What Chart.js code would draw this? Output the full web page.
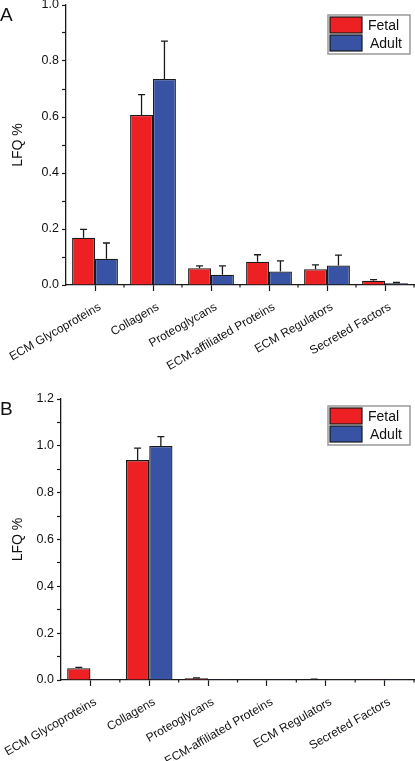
<!DOCTYPE html>
<html>
<head>
<meta charset="utf-8">
<script src="https://cdn.jsdelivr.net/npm/chart.js@4/dist/chart.umd.min.js"></script>
<style>
  body { margin: 0; background: #fff; width: 415px; height: 761px; overflow: hidden; position: relative; font-family: "Liberation Sans", Arial, sans-serif; }
  .panel { position: absolute; left: 0; }
  .letter { position: absolute; left: 0; font-size: 19px; line-height: 1; color: #111; }
</style>
</head>
<body>
<div class="panel" style="top:0"><canvas id="chartA" width="415" height="380"></canvas></div>
<div class="panel" style="top:380px"><canvas id="chartB" width="415" height="381"></canvas></div>
<div class="letter" style="top:5px">A</div>
<div class="letter" style="top:399px">B</div>
<script>
// categorias y valores
const categories = ['ECM Glycoproteins', 'Collagens', 'Proteoglycans', 'ECM-affiliated Proteins', 'ECM Regulators', 'Secreted Factors'];
const seriesNames = ['Fetal', 'Adult'];

// panel A
const fetalA = [0.169, 0.607, 0.060, 0.083, 0.056, 0.015];
const fetalErrA = [0.030, 0.073, 0.008, 0.025, 0.016, 0.004];
const adultA = [0.094, 0.736, 0.037, 0.048, 0.070, 0.006];
const adultErrA = [0.056, 0.135, 0.031, 0.038, 0.037, 0.003];

// panel B
const fetalB = [0.050, 0.939, 0.007, 0.001, 0.003, 0.001];
const fetalErrB = [0.004, 0.051, 0.002, 0, 0.001, 0];
const adultB = [0.001, 0.999, 0.0005, 0.001, 0.001, 0.0005];
const adultErrB = [0, 0.040, 0, 0, 0, 0];

const yMaxA = 1.0;
const yMaxB = 1.2;

const RED = 'rgb(237, 32, 36)';
const BLUE = 'rgb(57, 83, 164)';
const INK = '#1a1a1a';
const FONT = '"Liberation Sans", Arial, sans-serif';

// barras de error (solo hacia arriba) + marcas menores del eje x + leyenda
const extrasPlugin = {
  id: 'extras',
  afterDatasetsDraw(chart, args, opts) {
    const ctx = chart.ctx;
    const yScale = chart.scales.y;
    ctx.save();
    ctx.strokeStyle = INK;
    ctx.lineWidth = 1.3;
    chart.data.datasets.forEach((ds, i) => {
      const meta = chart.getDatasetMeta(i);
      meta.data.forEach((bar, j) => {
        const err = ds.errors[j];
        if (!err) return;
        const yTop = yScale.getPixelForValue(ds.data[j] + err);
        ctx.beginPath();
        ctx.moveTo(bar.x, bar.y);
        ctx.lineTo(bar.x, yTop);
        ctx.moveTo(bar.x - 3.5, yTop);
        ctx.lineTo(bar.x + 3.5, yTop);
        ctx.stroke();
      });
    });
    ctx.restore();
  },
  afterDraw(chart, args, opts) {
    const ctx = chart.ctx;
    const xs = chart.scales.x;
    const n = chart.data.labels.length;
    ctx.save();
    ctx.strokeStyle = INK;
    ctx.lineWidth = 1.2;
    // marcas cortas en los limites de categoria
    for (let k = 1; k <= n; k++) {
      const x = xs.left + k * (xs.right - xs.left) / n;
      ctx.beginPath();
      ctx.moveTo(x, xs.top);
      ctx.lineTo(x, xs.top + 2.5);
      ctx.stroke();
    }
    // leyenda en caja
    const lx = opts.x, ly = opts.y;
    ctx.fillStyle = '#fff';
    ctx.fillRect(lx, ly, 82, 39);
    ctx.strokeStyle = '#9a9a9a';
    ctx.lineWidth = 1.5;
    ctx.strokeRect(lx, ly, 82, 39);
    ctx.font = '14px ' + FONT;
    ctx.textBaseline = 'middle';
    chart.data.datasets.forEach((ds, i) => {
      const sy = ly + 2 + i * 18;
      ctx.fillStyle = ds.backgroundColor;
      ctx.fillRect(lx + 2, sy, 32, 16);
      ctx.strokeStyle = INK;
      ctx.lineWidth = 1.2;
      ctx.strokeRect(lx + 2, sy, 32, 16);
      ctx.fillStyle = '#111';
      ctx.fillText(ds.label, lx + 40 + i * 2, sy + 9);
    });
    ctx.restore();
  }
};

function createPanel(canvasId, fetal, fetalErr, adult, adultErr, yMax, axisWidth, bottomGap, topPad, legendPos) {
  const ctx = document.getElementById(canvasId).getContext('2d');
  return new Chart(ctx, {
    type: 'bar',
    data: {
      labels: categories,
      datasets: [
        { label: seriesNames[0], data: fetal, errors: fetalErr, backgroundColor: RED, borderColor: INK, borderWidth: 1.3 },
        { label: seriesNames[1], data: adult, errors: adultErr, backgroundColor: BLUE, borderColor: INK, borderWidth: 1.3 }
      ]
    },
    options: {
      responsive: false,
      animation: false,
      devicePixelRatio: 1,
      layout: { padding: { left: 0, right: 1, top: topPad, bottom: 0 } },
      datasets: { bar: { categoryPercentage: 0.79, barPercentage: 1.0 } },
      scales: {
        x: {
          grid: { display: true, offset: false, drawOnChartArea: false, drawTicks: true, tickLength: 6, color: INK, tickWidth: 1.2 },
          border: { color: INK, width: 1.3 },
          ticks: { maxRotation: 30, minRotation: 30, padding: 9, labelOffset: 5, color: '#111', font: { family: FONT, size: 12 }, autoSkip: false },
          afterFit(scale) {
            scale.height = bottomGap;
            scale.paddingLeft = 0;
            scale.paddingRight = 0;
          }
        },
        y: {
          min: 0,
          max: yMax,
          grid: { display: true, drawOnChartArea: false, drawTicks: true, tickLength: 4, color: INK, tickWidth: 1.2 },
          border: { color: INK, width: 1.3 },
          ticks: {
            stepSize: 0.1,
            padding: 3,
            color: '#111',
            font: { family: FONT, size: 12.5 },
            callback(value) {
              const k = Math.round(value * 10);
              return k % 2 === 0 ? (k / 10).toFixed(1) : '';
            }
          },
          title: { display: true, text: 'LFQ %', color: '#111', font: { family: FONT, size: 14 }, padding: { top: 10, bottom: 0 } },
          afterFit(scale) {
            scale.width = axisWidth;
            scale.paddingTop = 0;
            scale.paddingBottom = 0;
          }
        }
      },
      plugins: {
        legend: { display: false },
        tooltip: { enabled: false },
        extras: legendPos
      }
    },
    plugins: [extrasPlugin]
  });
}

createPanel('chartA', fetalA, fetalErrA, adultA, adultErrA, yMaxA, 66, 95, 5, { x: 328, y: 15 });
createPanel('chartB', fetalB, fetalErrB, adultB, adultErrB, yMaxB, 61, 81, 19, { x: 328, y: 26 });
</script>
</body>
</html>
